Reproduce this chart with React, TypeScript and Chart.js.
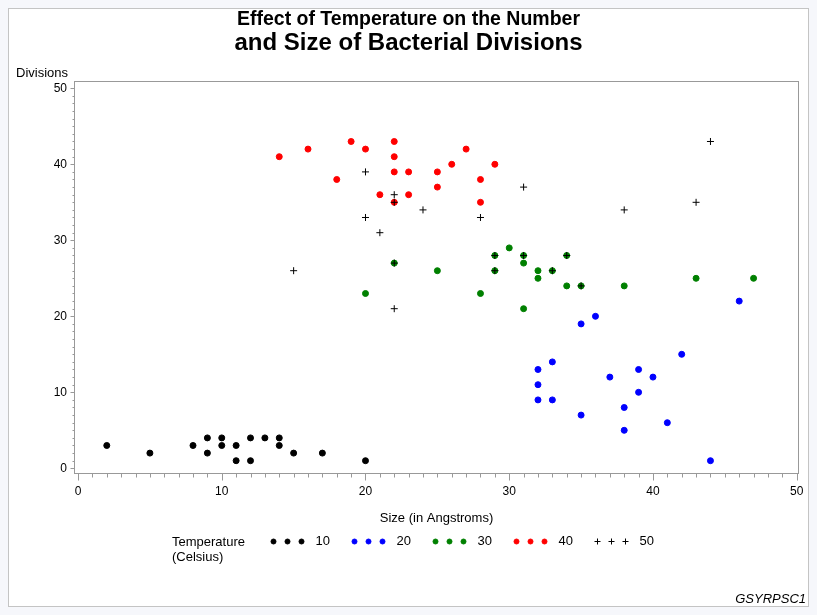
import React, { useEffect, useRef } from 'react';
import { Chart, registerables } from 'chart.js';

Chart.register(...registerables);

// ---- data ----
const temperatures = ['10', '20', '30', '40', '50'];

const size10 = [2, 5, 8, 9, 9, 10, 10, 11, 11, 12, 12, 13, 14, 14, 15, 17, 20];
const div10 = [3, 2, 3, 4, 2, 4, 3, 3, 1, 4, 1, 4, 4, 3, 2, 2, 1];

const size20 = [46, 36, 35, 42, 33, 32, 39, 37, 40, 32, 39, 32, 33, 38, 35, 41, 38, 44];
const div20 = [22, 20, 19, 15, 14, 13, 13, 12, 12, 11, 10, 9, 9, 8, 7, 6, 5, 1];

const size30 = [20, 22, 25, 28, 29, 29, 30, 31, 31, 31, 32, 32, 33, 34, 34, 35, 38, 43, 47];
const div30 = [23, 27, 26, 23, 28, 26, 29, 28, 27, 21, 26, 25, 26, 28, 24, 24, 24, 25, 25];

const size40 = [14, 16, 19, 20, 22, 22, 22, 23, 18, 21, 23, 22, 25, 25, 26, 27, 29, 28, 28];
const div40 = [41, 42, 43, 42, 43, 41, 39, 39, 38, 36, 36, 35, 39, 37, 40, 42, 40, 38, 35];

const size50 = [15, 20, 20, 21, 22, 22, 22, 22, 24, 28, 29, 29, 31, 31, 33, 34, 35, 38, 43, 44];
const div50 = [26, 39, 33, 31, 36, 35, 27, 21, 34, 33, 28, 26, 37, 28, 26, 28, 24, 34, 35, 43];

const xTickValues = [0, 10, 20, 30, 40, 50];
const yTickValues = [0, 10, 20, 30, 40, 50];

const titleLine1 = 'Effect of Temperature on the Number';
const titleLine2 = 'and Size of Bacterial Divisions';
const xAxisTitle = 'Size (in Angstroms)';
const yAxisTitle = 'Divisions';
const legendTitle1 = 'Temperature';
const legendTitle2 = '(Celsius)';
const footnote = 'GSYRPSC1';

const FONT = '"Liberation Sans", Arial, Helvetica, sans-serif';

const seriesSizes = [size10, size20, size30, size40, size50];
const seriesDivs = [div10, div20, div30, div40, div50];
const seriesColors = ['#000000', '#0000ff', '#008000', '#ff0000', '#000000'];
const seriesStyles = ['circle', 'circle', 'circle', 'circle', 'cross'];

const framePlugin = {
  id: 'frameTicks',
  beforeDatasetsDraw(chart: any) {
    const { ctx, chartArea } = chart;
    const xs = chart.scales.x;
    const ys = chart.scales.y;
    ctx.save();
    ctx.strokeStyle = '#999999';
    ctx.lineWidth = 1;
    const l = Math.round(chartArea.left) + 0.5;
    const r = Math.round(chartArea.right) - 0.5;
    const t = Math.round(chartArea.top) + 0.5;
    const b = Math.round(chartArea.bottom) - 0.5;
    ctx.strokeRect(l, t, r - l, b - t);
    ctx.beginPath();
    for (let v = 0; v <= 50; v++) {
      const px = Math.round(xs.getPixelForValue(v)) + 0.5;
      const len = v % 10 === 0 ? 7 : 4;
      ctx.moveTo(px, b);
      ctx.lineTo(px, b + len);
      const py = Math.round(ys.getPixelForValue(v)) + 0.5;
      const ylen = v % 10 === 0 ? 4 : 2;
      ctx.moveTo(l, py);
      ctx.lineTo(l - ylen, py);
    }
    ctx.stroke();
    ctx.restore();
  },
};

const textPlugin = {
  id: 'texts',
  afterDraw(chart: any) {
    const { ctx, chartArea } = chart;
    const W = chart.width;
    ctx.save();
    ctx.fillStyle = '#000';
    ctx.textAlign = 'center';
    ctx.textBaseline = 'alphabetic';
    ctx.font = `bold 19.5px ${FONT}`;
    ctx.fillText(titleLine1, W / 2, 25);
    ctx.font = `bold 24px ${FONT}`;
    ctx.fillText(titleLine2, W / 2, 50);

    ctx.font = `13px ${FONT}`;
    ctx.fillText(xAxisTitle, (chartArea.left + chartArea.right) / 2, 522);
    ctx.textAlign = 'left';
    ctx.fillText(yAxisTitle, 16, 77);

    // legend
    ctx.textBaseline = 'middle';
    ctx.fillText(legendTitle1, 172, 542);
    ctx.fillText(legendTitle2, 172, 557);
    const legY = 541.5;
    chart.data.datasets.forEach((ds: any, i: number) => {
      const x0 = 273.5 + i * 81;
      for (let k = 0; k < 3; k++) {
        const cx = x0 + k * 14;
        ctx.fillStyle = ds.backgroundColor;
        ctx.strokeStyle = ds.borderColor;
        ctx.lineWidth = 1;
        if (ds.pointStyle === 'cross') {
          ctx.beginPath();
          ctx.moveTo(cx - 3, legY);
          ctx.lineTo(cx + 3, legY);
          ctx.moveTo(cx, legY - 3);
          ctx.lineTo(cx, legY + 3);
          ctx.stroke();
        } else {
          ctx.beginPath();
          ctx.arc(cx, legY, 2.5, 0, Math.PI * 2);
          ctx.fill();
          ctx.stroke();
        }
      }
      ctx.fillStyle = '#000';
      ctx.fillText(ds.label, x0 + 42, legY);
    });

    ctx.font = `italic 13px ${FONT}`;
    ctx.textAlign = 'right';
    ctx.textBaseline = 'alphabetic';
    ctx.fillText(footnote, 806, 603);
    ctx.restore();
  },
};

export default function App() {
  const ref = useRef<HTMLCanvasElement | null>(null);

  useEffect(() => {
    document.body.style.backgroundColor = '#f6f7fb';
    if (!ref.current) return;
    const datasets = temperatures.map((t, i) => ({
      label: t,
      data: seriesSizes[i].map((x, j) => ({ x, y: seriesDivs[i][j] })),
      pointStyle: seriesStyles[i],
      pointRadius: seriesStyles[i] === 'cross' ? 3.5 : 3,
      pointHoverRadius: seriesStyles[i] === 'cross' ? 3.5 : 3,
      backgroundColor: seriesColors[i],
      borderColor: seriesColors[i],
      pointBorderWidth: 1,
      borderWidth: 1,
      showLine: false,
      order: seriesStyles[i] === 'cross' ? 0 : i + 1,
    }));

    const chart = new Chart(ref.current, {
      type: 'scatter',
      data: { datasets },
      options: {
        responsive: false,
        animation: false,
        devicePixelRatio: 1,
        layout: { padding: { left: 14, top: 81, right: 18, bottom: 101 } },
        plugins: {
          legend: { display: false },
          title: { display: false },
          tooltip: { enabled: false },
        },
        scales: {
          x: {
            type: 'linear',
            min: -0.28,
            max: 50.16,
            grid: { display: false, drawTicks: false },
            border: { display: false },
            ticks: {
              color: '#000',
              font: { family: FONT, size: 12 },
              padding: 10,
              maxRotation: 0,
              autoSkip: false,
            },
            afterBuildTicks: (s: any) => {
              s.ticks = xTickValues.map((v) => ({ value: v }));
            },
            afterFit: (s: any) => {
              s.height = 40;
            },
          },
          y: {
            type: 'linear',
            min: -0.75,
            max: 50.96,
            grid: { display: false, drawTicks: false },
            border: { display: false },
            ticks: {
              color: '#000',
              font: { family: FONT, size: 12 },
              padding: 7,
              autoSkip: false,
            },
            afterBuildTicks: (s: any) => {
              s.ticks = yTickValues.map((v) => ({ value: v }));
            },
            afterFit: (s: any) => {
              s.width = 60;
            },
          },
        },
      } as any,
      plugins: [framePlugin, textPlugin],
    });
    return () => chart.destroy();
  }, []);

  return (
    <div
      style={{
        position: 'relative',
        width: 801,
        height: 599,
        boxSizing: 'border-box',
        border: '1px solid #c4c4c4',
        background: '#ffffff',
      }}
    >
      <canvas
        ref={ref}
        width={817}
        height={615}
        style={{ position: 'fixed', left: 0, top: 0 }}
      />
    </div>
  );
}
